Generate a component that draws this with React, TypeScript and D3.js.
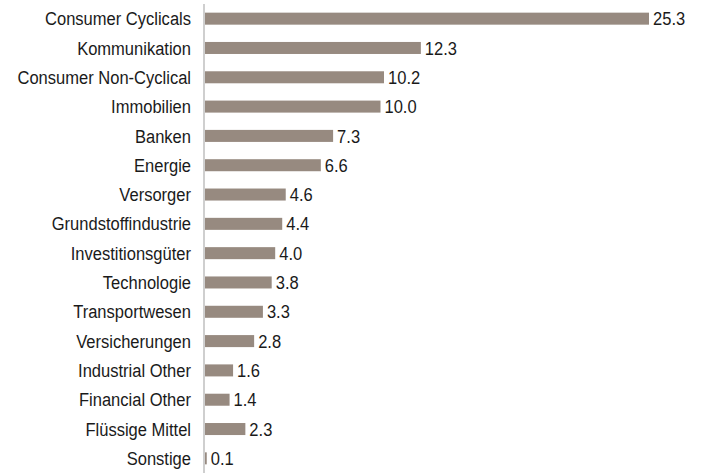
import React from "react";
import * as d3 from "d3";

const categories = [
  "Consumer Cyclicals",
  "Kommunikation",
  "Consumer Non-Cyclical",
  "Immobilien",
  "Banken",
  "Energie",
  "Versorger",
  "Grundstoffindustrie",
  "Investitionsgüter",
  "Technologie",
  "Transportwesen",
  "Versicherungen",
  "Industrial Other",
  "Financial Other",
  "Flüssige Mittel",
  "Sonstige",
];
const values = [25.3, 12.3, 10.2, 10.0, 7.3, 6.6, 4.6, 4.4, 4.0, 3.8, 3.3, 2.8, 1.6, 1.4, 2.3, 0.1];

const width = 701;
const height = 473;
const axisX = 204;
const font = "'Liberation Sans', Arial, sans-serif";
// the original uses a condensed face; squeeze the regular one horizontally
const squeeze = 0.87;

const App = () => {
  const rows = categories.map((c, i) => ({ name: c, value: values[i] }));

  const y = d3
    .scaleBand<string>()
    .domain(categories)
    .range([4, height])
    .paddingInner(0.59)
    .paddingOuter(0.295);

  const x = d3.scaleLinear().domain([0, 25.3]).range([axisX + 1, 649]);

  return (
    <svg
      width={width}
      height={height}
      style={{ position: "absolute", left: 0, top: 0, background: "#fff" }}
      fontFamily={font}
    >
      {rows.map((d) => {
        const yy = y(d.name)!;
        const cy = yy + y.bandwidth() / 2;
        return (
          <g key={d.name}>
            <rect x={x(0)} y={yy} width={x(d.value) - x(0)} height={y.bandwidth()} fill="#978a80" />
            <g transform={`translate(191,${cy}) scale(${squeeze},1)`}>
              <text dy="0.35em" textAnchor="end" fontSize={19} fill="#1a1a1a">
                {d.name}
              </text>
            </g>
            <g transform={`translate(${x(d.value) + 4},${cy}) scale(${squeeze},1)`}>
              <text dy="0.35em" fontSize={19} fill="#1a1a1a">
                {d3.format(".1f")(d.value)}
              </text>
            </g>
          </g>
        );
      })}
      <line x1={axisX} x2={axisX} y1={4} y2={height} stroke="#bfbfbf" strokeWidth={1.5} />
    </svg>
  );
};

export default App;
